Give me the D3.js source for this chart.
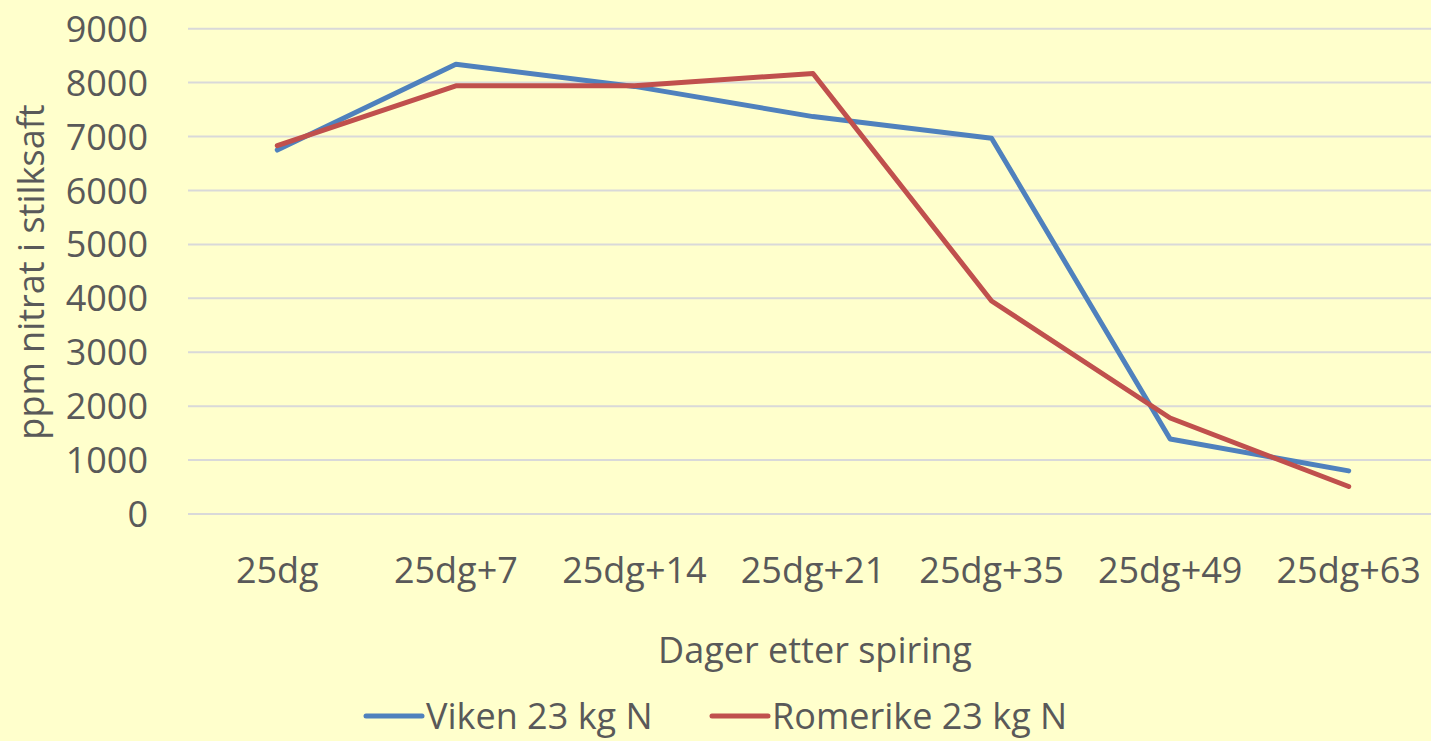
<!DOCTYPE html>
<html>
<head>
<meta charset="utf-8">
<script src="https://cdn.jsdelivr.net/npm/d3@7"></script>
<style>
  html, body { margin: 0; padding: 0; background: #FFFFCC; }
  svg { display: block; }
  text { font-family: "Open Sans", sans-serif; fill: #595959; }
</style>
</head>
<body>
<script>
let categories = ["25dg", "25dg+7", "25dg+14", "25dg+21", "25dg+35", "25dg+49", "25dg+63"]
let viken = [6750, 8340, 7930, 7370, 6970, 1390, 800]
let romerike = [6830, 7940, 7940, 8170, 3950, 1780, 510]
let yTicks = [0, 1000, 2000, 3000, 4000, 5000, 6000, 7000, 8000, 9000]
let seriesNames = ["Viken 23 kg N", "Romerike 23 kg N"]
let colors = ["#4F81BD", "#C0504D"]

let width = 1431, height = 741;
let plotLeft = 188, plotRight = 1438, plotTop = 28.7, plotBottom = 514;

var svg = d3.select("body").append("svg")
    .attr("width", width)
    .attr("height", height)

svg.append("rect").attr("width", width).attr("height", height).attr("fill", "#FFFFCC")

var x = d3.scaleBand().domain(categories).range([plotLeft, plotRight])
var y = d3.scaleLinear().domain([0, 9000]).range([plotBottom, plotTop])

// gridlines
svg.append("g").selectAll("line")
    .data(yTicks)
    .enter().append("line")
    .attr("x1", plotLeft).attr("x2", plotRight)
    .attr("y1", d => y(d)).attr("y2", d => y(d))
    .attr("stroke", "#D9D9D9")
    .attr("stroke-width", 2)

// y axis labels
var yAxis = svg.append("g")
    .attr("transform", "translate(148,0)")
    .call(d3.axisLeft(y).tickValues(yTicks).tickFormat(d3.format("d")).tickSize(0).tickPadding(0))
yAxis.select(".domain").remove()
yAxis.selectAll("text")
    .style("font-size", "36px")
    .attr("fill", "#595959")
    .attr("dy", "0.35em")

// x axis labels
var xAxis = svg.append("g")
    .attr("transform", "translate(0," + plotBottom + ")")
    .call(d3.axisBottom(x).tickSize(0).tickPadding(0))
xAxis.select(".domain").remove()
xAxis.selectAll("text")
    .style("font-size", "36px")
    .attr("fill", "#595959")
    .attr("y", 56)
    .attr("dy", "0.35em")

// lines
var line = d3.line()
    .x((d, i) => x(categories[i]) + x.bandwidth() / 2)
    .y(d => y(d))

;[viken, romerike].forEach(function(s, i) {
    svg.append("path")
        .datum(s)
        .attr("d", line)
        .attr("fill", "none")
        .attr("stroke", colors[i])
        .attr("stroke-width", 5)
        .attr("stroke-linejoin", "round")
        .attr("stroke-linecap", "round")
})

// axis titles
svg.append("text")
    .attr("transform", "translate(44,272) rotate(-90)")
    .attr("text-anchor", "middle")
    .style("font-size", "36px")
    .text("ppm nitrat i stilksaft")

svg.append("text")
    .attr("x", 815).attr("y", 650)
    .attr("text-anchor", "middle")
    .attr("dy", "0.35em")
    .style("font-size", "36px")
    .text("Dager etter spiring")

// legend
var legendX = [366, 712]
seriesNames.forEach(function(name, i) {
    var g = svg.append("g").attr("transform", "translate(" + legendX[i] + ",716)")
    g.append("line")
        .attr("x1", 0).attr("x2", 56)
        .attr("stroke", colors[i]).attr("stroke-width", 5)
        .attr("stroke-linecap", "round")
    g.append("text")
        .attr("x", 60)
        .attr("dy", "0.35em")
        .style("font-size", "36px")
        .text(name)
})
</script>
</body>
</html>
